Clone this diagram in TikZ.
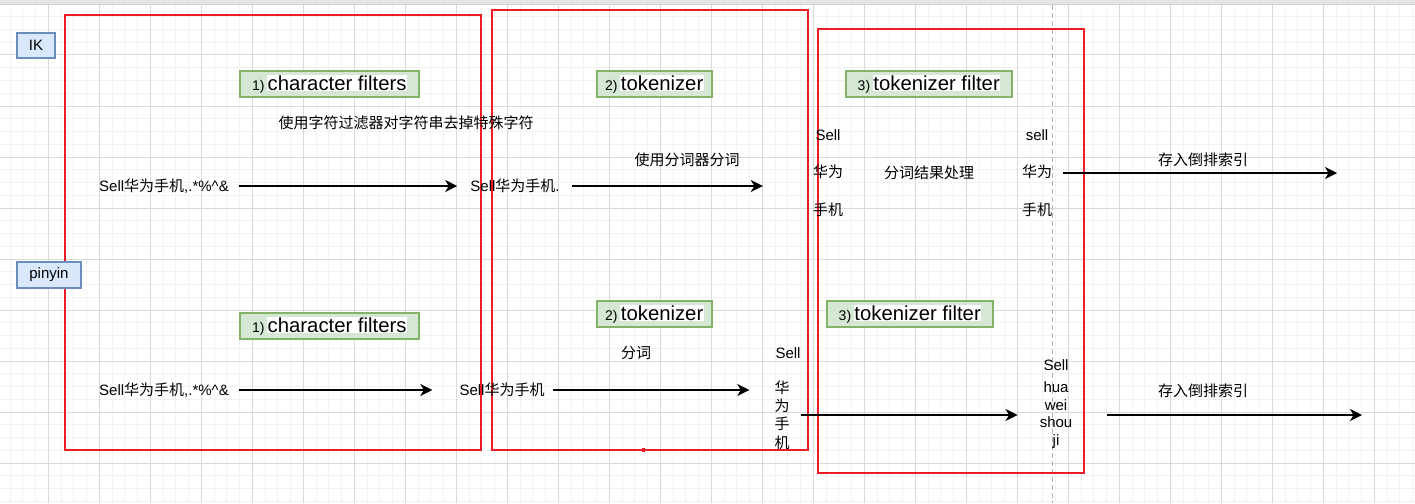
\documentclass[tikz,border=0pt]{standalone}
\usepackage{fontspec}
\setmainfont{Liberation Sans}
\newfontfamily\cjk{Noto Sans CJK SC}
\newcommand\zh[1]{{\cjk #1}}
\usetikzlibrary{arrows.meta}
\definecolor{redline}{RGB}{237,28,36}
\definecolor{gfill}{HTML}{D5E8D4}
\definecolor{gdraw}{HTML}{82B366}
\definecolor{bfill}{HTML}{DAE8FC}
\definecolor{bdraw}{HTML}{6C8EBF}
\definecolor{gridminor}{HTML}{F2F2F2}
\definecolor{gridmajor}{HTML}{D9D9D9}
\setlength{\fboxsep}{0.5pt}
\begin{document}
\begin{tikzpicture}[x=1pt,y=-1pt,
  redbox/.style={draw=redline,line width=2pt},
  gbox/.style={draw=gdraw,fill=gfill,line width=1.5pt,inner sep=0pt,minimum height=26pt},
  bbox/.style={draw=bdraw,fill=bfill,line width=1.5pt,inner sep=0pt,font=\fontsize{15}{15}\selectfont},
  txt/.style={inner sep=0pt,font=\fontsize{15}{15}\selectfont},
  arr/.style={-{Stealth[length=12pt,width=12pt,inset=3.5pt]},line width=1.6pt},
  arrthick/.style={-{Stealth[length=12pt,width=12pt,inset=3.5pt]},line width=2.2pt}]
\useasboundingbox (0,0) rectangle (1415,503);
% grid
\fill[white] (0,0) rectangle (1415,503);
\foreach \i in {0,...,112} {\draw[gridminor,line width=1pt] ({-2.7+\i*12.75},4) -- ({-2.7+\i*12.75},503);}
\foreach \i in {0,...,40} {\draw[gridminor,line width=1pt] (0,{4+\i*12.75}) -- (1415,{4+\i*12.75});}
\foreach \i in {0,...,28} {\draw[gridmajor,line width=1pt] ({-2.7+\i*51},4) -- ({-2.7+\i*51},503);}
\foreach \i in {0,...,10} {\draw[gridmajor,line width=1pt] (0,{4+\i*51}) -- (1415,{4+\i*51});}
\fill[black!10] (0,0) rectangle (1415,4);
\draw[black!18,line width=0.8pt] (0,4.5) -- (1415,4.5);
% dashed divider
\draw[black!30,line width=1.3pt,dash pattern=on 5pt off 3pt] (1052.7,5) -- (1052.7,503);
% red frames
\draw[redbox] (65,15) rectangle (481,450);
\draw[redbox] (492,10) rectangle (808,450);
\draw[redbox] (818,29) rectangle (1084,473);
\fill[redline] (641.5,447.5) rectangle (644.5,451.5);
% tags
\node[bbox,minimum width=38pt,minimum height=25pt] (ik) at (36,45.5) {IK};
\node[bbox,minimum width=64pt,minimum height=26pt] (py) at (49,275) {pinyin};
% green step labels
\node[gbox,minimum width=179pt] (cf1) at (329.5,84) {{\fontsize{14}{14}\selectfont 1)} \colorbox{white}{\fontsize{20.3}{20.3}\selectfont character filters}};
\node[gbox,minimum width=115pt] (tk1) at (654.5,84) {{\fontsize{14}{14}\selectfont 2)} \colorbox{white}{\fontsize{20.3}{20.3}\selectfont tokenizer}};
\node[gbox,minimum width=166pt] (tf1) at (929,84) {{\fontsize{14}{14}\selectfont 3)} \colorbox{white}{\fontsize{20.3}{20.3}\selectfont tokenizer filter}};
\node[gbox,minimum width=179pt] (cf2) at (329.5,326) {{\fontsize{14}{14}\selectfont 1)} \colorbox{white}{\fontsize{20.3}{20.3}\selectfont character filters}};
\node[gbox,minimum width=115pt] (tk2) at (654.5,314) {{\fontsize{14}{14}\selectfont 2)} \colorbox{white}{\fontsize{20.3}{20.3}\selectfont tokenizer}};
\node[gbox,minimum width=166pt] (tf2) at (910,314) {{\fontsize{14}{14}\selectfont 3)} \colorbox{white}{\fontsize{20.3}{20.3}\selectfont tokenizer filter}};
% IK row
\node[txt] (cfnote) at (406,123) {\zh{使用字符过滤器对字符串去掉特殊字符}};
\node[txt] (ksrc) at (164,186) {Sell\zh{华为手机},.*\%\^{}\&};
\node[txt] (kdst) at (515,186) {Sell\zh{华为手机}.};
\node[txt] (tknote) at (687,160) {\zh{使用分词器分词}};
\node[txt,align=center,font=\fontsize{15}{37.5}\selectfont] (kcol) at (828,173) {Sell\\\zh{华为}\\\zh{手机}};
\node[txt] (proc) at (929,173) {\zh{分词结果处理}};
\node[txt,align=center,font=\fontsize{15}{37.5}\selectfont] (rcol) at (1037,173) {sell\\\zh{华为}\\\zh{手机}};
\node[txt] (store1) at (1203,160) {\zh{存入倒排索引}};
\coordinate (kend) at (1337,173);
\draw[arr,shorten <=10pt,shorten >=13pt] (ksrc.east) -- (kdst.west);
\draw[arr,shorten <=12pt,shorten >=50pt] (kdst.east) -- (kdst.east -| kcol.west);
\draw[arr,shorten <=11pt] (rcol.east) -- (kend);
% pinyin row
\node[txt] (psrc) at (164,390) {Sell\zh{华为手机},.*\%\^{}\&};
\node[txt] (pdst) at (502,390) {Sell\zh{华为手机}};
\node[txt] (fenci) at (636,353) {\zh{分词}};
\node[txt] (psell) at (788,353) {Sell};
\node[txt,align=center,font=\fontsize{15}{18.3}\selectfont] (pvert) at (782,415) {\zh{华}\\\zh{为}\\\zh{手}\\\zh{机}};
\node[txt] (psell2) at (1056,365) {Sell};
\node[txt,align=center,font=\fontsize{15}{17.7}\selectfont] (ppin) at (1056,415) {hua\\wei\\shou\\ji};
\node[txt] (store2) at (1203,391) {\zh{存入倒排索引}};
\coordinate (pend) at (1362,415);
\draw[arr,shorten <=10pt,shorten >=27pt] (psrc.east) -- (pdst.west);
\draw[arr,shorten <=8pt,shorten >=25pt] (pdst.east) -- (pdst.east -| pvert.west);
\draw[arr,shorten <=11pt,shorten >=22pt] (pvert.east) -- (pvert.east -| ppin.west);
\draw[arrthick,shorten <=35pt] (ppin.east) -- (pend);
\end{tikzpicture}
\end{document}
